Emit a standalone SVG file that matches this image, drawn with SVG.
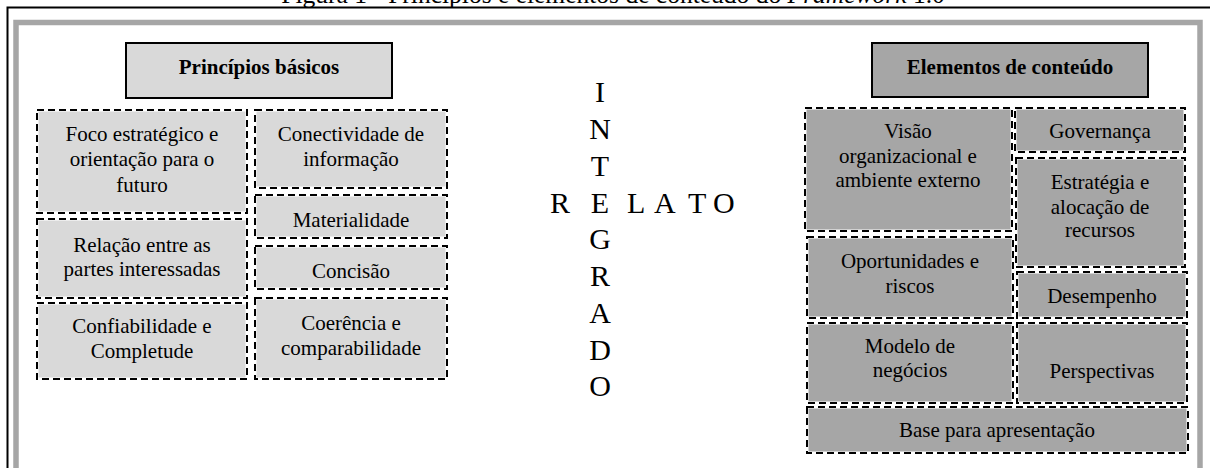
<svg xmlns="http://www.w3.org/2000/svg" width="1210" height="468" viewBox="0 0 1210 468">
<style>
text{font-family:"Liberation Serif","Times New Roman",serif;fill:#000}
.t{font-size:21px;text-anchor:middle}
.h{font-size:21px;font-weight:bold;text-anchor:middle}
.big{font-size:30px}
.bg{stroke:#fff;stroke-width:3}
.dash{fill:none;stroke:#000;stroke-width:2;stroke-dasharray:7 4}
.lt{fill:#d9d9d9}
.dk{fill:#a6a6a6}
.head{stroke:#000;stroke-width:2}
</style>
<rect width="1210" height="468" fill="#fff"/>
<text x="613" y="3" font-size="25.5" text-anchor="middle">Figura 1 - Princípios e elementos de conteúdo do <tspan font-style="italic">Framework</tspan> 1.0</text>
<rect x="7.5" y="7.5" width="1220" height="500" fill="none" stroke="#000" stroke-width="2"/>
<rect x="16" y="22.5" width="1184" height="500" fill="none" stroke="#a6a6a6" stroke-width="5.5"/>

<g id="principios-basicos">
<rect class="lt head" x="126" y="43" width="266" height="55"/>
<text class="h" x="259" y="74">Princípios básicos</text>
</g>
<g id="foco">
<rect class="lt bg" x="37" y="110" width="210" height="103"/><rect class="dash" x="37" y="110" width="210" height="103"/>
<text class="t" x="142" y="140.5">Foco estratégico e</text>
<text class="t" x="142" y="166">orientação para o</text>
<text class="t" x="142" y="191.5">futuro</text>
</g>
<g id="conectividade">
<rect class="lt bg" x="255" y="110" width="192" height="78"/><rect class="dash" x="255" y="110" width="192" height="78"/>
<text class="t" x="351" y="140.5">Conectividade de</text>
<text class="t" x="351" y="166">informação</text>
</g>
<g id="materialidade">
<rect class="lt bg" x="255" y="195" width="192" height="43"/><rect class="dash" x="255" y="195" width="192" height="43"/>
<text class="t" x="351" y="226.5">Materialidade</text>
</g>
<g id="relacao">
<rect class="lt bg" x="37" y="219" width="210" height="79"/><rect class="dash" x="37" y="219" width="210" height="79"/>
<text class="t" x="142" y="251.5">Relação entre as</text>
<text class="t" x="142" y="276">partes interessadas</text>
</g>
<g id="concisao">
<rect class="lt bg" x="255" y="246" width="192" height="43"/><rect class="dash" x="255" y="246" width="192" height="43"/>
<text class="t" x="351" y="277.5">Concisão</text>
</g>
<g id="confiabilidade">
<rect class="lt bg" x="37" y="303" width="210" height="76"/><rect class="dash" x="37" y="303" width="210" height="76"/>
<text class="t" x="142" y="333">Confiabilidade e</text>
<text class="t" x="142" y="358">Completude</text>
</g>
<g id="coerencia">
<rect class="lt bg" x="255" y="298" width="192" height="81"/><rect class="dash" x="255" y="298" width="192" height="81"/>
<text class="t" x="351" y="330">Coerência e</text>
<text class="t" x="351" y="355">comparabilidade</text>
</g>

<g id="relato-integrado">
<text class="big" text-anchor="middle"><tspan x="600" y="101.5">I</tspan><tspan x="600" y="138.5">N</tspan><tspan x="600" y="175.5">T</tspan><tspan x="600" y="212.5">E</tspan><tspan x="600" y="248.5">G</tspan><tspan x="600" y="285.5">R</tspan><tspan x="600" y="322.5">A</tspan><tspan x="600" y="359.5">D</tspan><tspan x="600" y="396">O</tspan></text>
<text class="big"><tspan x="550" y="212.5">R</tspan><tspan x="627" y="212.5">L</tspan><tspan x="654" y="212.5">A</tspan><tspan x="688" y="212.5">T</tspan><tspan x="713" y="212.5">O</tspan></text>
</g>

<g id="elementos-conteudo">
<rect class="dk head" x="872" y="43" width="276" height="54"/>
<text class="h" x="1010" y="73.5">Elementos de conteúdo</text>
</g>
<g id="visao">
<rect class="dk bg" x="805" y="108" width="207" height="123"/><rect class="dash" x="805" y="108" width="207" height="123"/>
<text class="t" x="908" y="138">Visão</text>
<text class="t" x="908" y="163">organizacional e</text>
<text class="t" x="908" y="187">ambiente externo</text>
</g>
<g id="governanca">
<rect class="dk bg" x="1015" y="108" width="170" height="44"/><rect class="dash" x="1015" y="108" width="170" height="44"/>
<text class="t" x="1100" y="137.5">Governança</text>
</g>
<g id="estrategia">
<rect class="dk bg" x="1016" y="158" width="169" height="109"/><rect class="dash" x="1016" y="158" width="169" height="109"/>
<text class="t" x="1100" y="189">Estratégia e</text>
<text class="t" x="1100" y="213.5">alocação de</text>
<text class="t" x="1100" y="237">recursos</text>
</g>
<g id="oportunidades">
<rect class="dk bg" x="807" y="237" width="206" height="81"/><rect class="dash" x="807" y="237" width="206" height="81"/>
<text class="t" x="910" y="268">Oportunidades e</text>
<text class="t" x="910" y="293">riscos</text>
</g>
<g id="desempenho">
<rect class="dk bg" x="1017" y="272" width="170" height="46"/><rect class="dash" x="1017" y="272" width="170" height="46"/>
<text class="t" x="1102" y="303">Desempenho</text>
</g>
<g id="modelo">
<rect class="dk bg" x="807" y="323" width="206" height="80"/><rect class="dash" x="807" y="323" width="206" height="80"/>
<text class="t" x="910" y="353">Modelo de</text>
<text class="t" x="910" y="377">negócios</text>
</g>
<g id="perspectivas">
<rect class="dk bg" x="1017" y="323" width="170" height="80"/><rect class="dash" x="1017" y="323" width="170" height="80"/>
<text class="t" x="1102" y="378">Perspectivas</text>
</g>
<g id="base">
<rect class="dk bg" x="807" y="407" width="381" height="46"/><rect class="dash" x="807" y="407" width="381" height="46"/>
<text class="t" x="997" y="437">Base para apresentação</text>
</g>
<g id="connectors"/>
</svg>
